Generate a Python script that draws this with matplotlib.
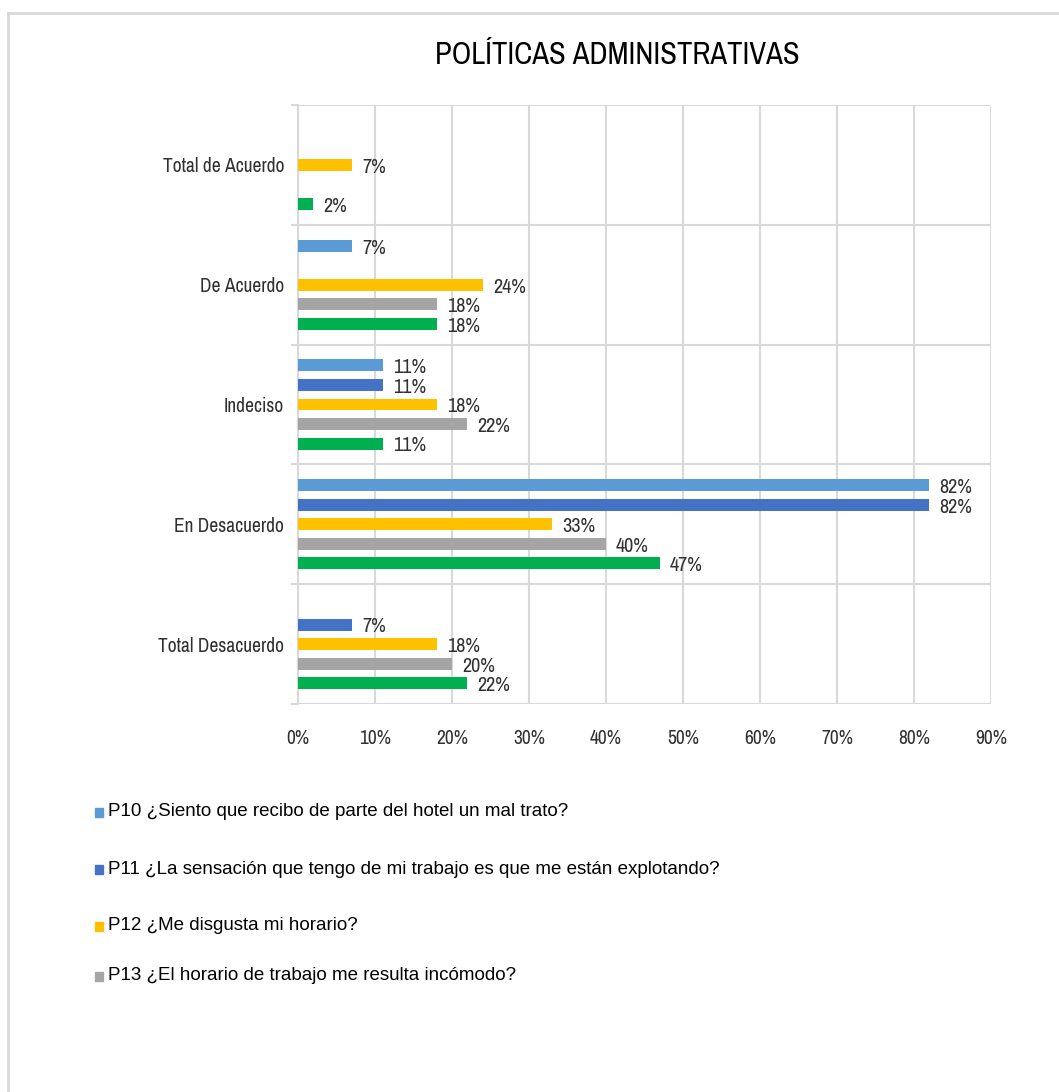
import matplotlib
matplotlib.use('Agg')
import matplotlib.pyplot as plt
from matplotlib import font_manager
from matplotlib.lines import Line2D
from matplotlib.patches import Rectangle
import numpy as np

# buscar una fuente estrecha instalada
fuentes = font_manager.fontManager.ttflist
estrechas = [f.name for f in fuentes if 'Narrow' in f.name or 'Condensed' in f.name]
dv_cond = [f for f in fuentes if f.name == 'DejaVu Sans' and 'condensed' in str(f.stretch)]
if estrechas:
    fam, stretch = estrechas[0], 'normal'
elif dv_cond:
    fam, stretch = 'DejaVu Sans', 'condensed'
else:
    fam, stretch = 'Liberation Sans', 'normal'
plt.rcParams['font.family'] = [fam, 'DejaVu Sans']
plt.rcParams['font.stretch'] = stretch

categorias = ['Total de Acuerdo', 'De Acuerdo', 'Indeciso', 'En Desacuerdo', 'Total Desacuerdo']
series = ['P10 ¿Siento que recibo de parte del hotel un mal trato?',
          'P11 ¿La sensación que tengo de mi trabajo es que me están explotando?',
          'P12 ¿Me disgusta mi horario?',
          'P13 ¿El horario de trabajo me resulta incómodo?',
          'P14']
p10 = [0, 7, 11, 82, 0]
p11 = [0, 0, 11, 82, 7]
p12 = [7, 24, 18, 33, 18]
p13 = [0, 18, 22, 40, 20]
p14 = [2, 18, 11, 47, 22]
valores = [p10, p11, p12, p13, p14]
colores = ['#5B9BD5', '#4472C4', '#FFC000', '#A5A5A5', '#00B050']
xticks = [0, 10, 20, 30, 40, 50, 60, 70, 80, 90]

fig = plt.figure(figsize=(10.59, 10.92), dpi=100)
ax = fig.add_axes([298/1059, 1-704/1092, (991-298)/1059, (704-105)/1092])

y = np.arange(len(categorias))
paso = 0.163
alto = 0.1
for j, (vals, col) in enumerate(zip(valores, colores)):
    pos = y + (j - 2) * paso
    ax.barh(pos, vals, height=alto, color=col, zorder=3)
    for p, v in zip(pos, vals):
        if v > 0:
            ax.text(v + 1.3, p + 0.02, '%d%%' % v, va='center', ha='left',
                    fontsize=14.5, color='#303030')

ax.set_xlim(0, 90)
ax.set_ylim(len(categorias) - 0.5, -0.5)
ax.set_xticks(xticks)
ax.set_xticklabels(['%d%%' % t for t in xticks], fontsize=14, color='#303030')
ax.set_yticks(y)
ax.set_yticklabels(categorias, fontsize=14, color='#303030')
ax.set_yticks(np.arange(-0.5, len(categorias)), minor=True)
ax.tick_params(axis='y', which='major', length=0, pad=10)
ax.tick_params(axis='y', which='minor', length=5, color='#D9D9D9', width=1.5)
ax.tick_params(axis='x', length=0, pad=18)
ax.grid(axis='x', color='#D9D9D9', linewidth=1.5, zorder=0)
ax.grid(axis='y', which='minor', color='#D9D9D9', linewidth=1.5, zorder=0)
for s in ax.spines.values():
    s.set_visible(False)
ax.spines['left'].set_visible(True)
ax.spines['left'].set_color('#D9D9D9')
ax.spines['left'].set_linewidth(1.5)

fig.text(617/1059, 1-55/1092, 'POLÍTICAS ADMINISTRATIVAS', ha='center', va='center',
         fontsize=22, color='#000000')

# leyenda solo con las cuatro primeras preguntas
filas = [812, 869, 926, 976]
for k in range(4):
    yy = 1 - filas[k]/1092
    fig.add_artist(Rectangle((95/1059, yy - 4.5/1092), 8/1059, 9/1092,
                             color=colores[k], transform=fig.transFigure))
    fig.text(108/1059, yy, series[k], color='#000000', fontsize=13.5, va='center', ha='left',
             family=['Liberation Sans', 'DejaVu Sans'], stretch='normal')

# marco del gráfico
fig.add_artist(Line2D([8/1059, 1], [1-13/1092, 1-13/1092], color='#D9D9D9', linewidth=2,
                      transform=fig.transFigure))
fig.add_artist(Line2D([8/1059, 8/1059], [0, 1-13/1092], color='#D9D9D9', linewidth=2,
                      transform=fig.transFigure))

fig.savefig('out.png', dpi=100, facecolor='white')
